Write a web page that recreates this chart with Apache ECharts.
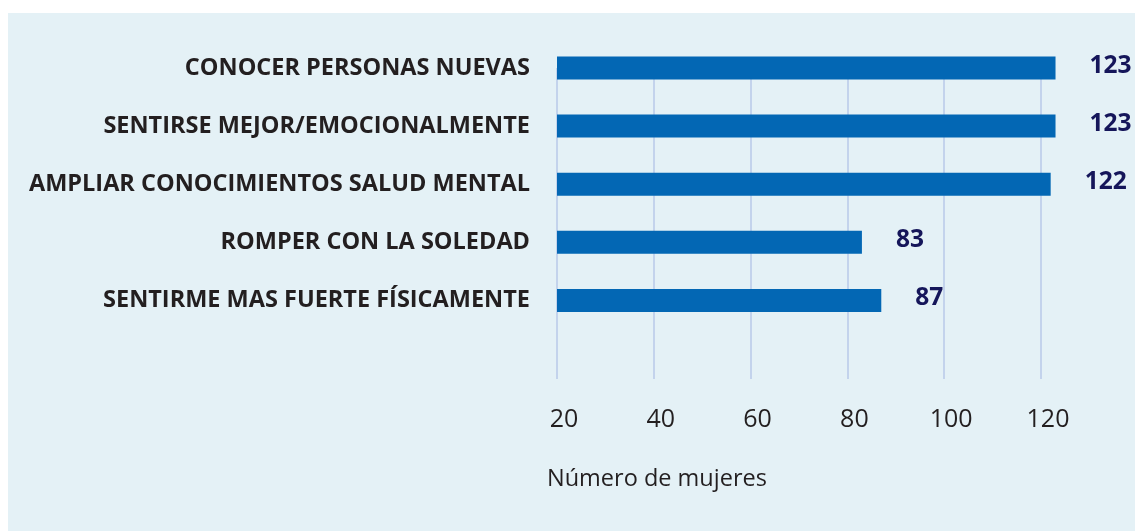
<!DOCTYPE html>
<html>
<head>
    <meta charset="utf-8">
    <title>Motivos</title>
    <style type="text/css">
        html, body {
            width: 100%;
            height: 100%;
            margin: 0;
            padding: 0;
            background: #ffffff;
        }
        #panel {
            position: absolute;
            left: 8px;
            top: 13px;
            right: 0;
            bottom: 0;
            background: #e4f1f6;
        }
        #main {
            position: absolute;
            left: 0;
            top: 0;
            width: 1135px;
            height: 531px;
        }
    </style>
    <script src="https://cdn.jsdelivr.net/npm/echarts@6/dist/echarts.min.js"></script>
</head>
<body>
<div id="panel"></div>
<div id="main"></div>
<script type="text/javascript">
    // datos
    var categorias = [
        'CONOCER PERSONAS NUEVAS',
        'SENTIRSE MEJOR/EMOCIONALMENTE',
        'AMPLIAR CONOCIMIENTOS SALUD MENTAL',
        'ROMPER CON LA SOLEDAD',
        'SENTIRME MAS FUERTE FÍSICAMENTE'
    ];
    var valores = [123, 123, 122, 83, 87];
    var ejeMin = 20;
    var ejeMax = 120;
    var ejeIntervalo = 20;
    var nombreEje = 'Número de mujeres';

    var myChart = echarts.init(document.getElementById('main'));

    // misma escala en los dos ejes x: 4.84 px por unidad
    var pxUnidad = (1135 - 557 - 94) / (ejeMax - ejeMin);
    var maxBarras = 125;

    // grid 0: barras; grid 1: lineas de division y etiquetas del eje
    var option = {
        backgroundColor: 'transparent',
        animation: false,
        title: {
            text: nombreEje,
            left: 547,
            top: 467,
            padding: 0,
            textStyle: {
                fontFamily: 'Open Sans',
                fontSize: 23.5,
                fontWeight: 'normal',
                color: '#231f20'
            }
        },
        grid: [
            {
                left: 557,
                right: 1135 - 557 - (maxBarras - ejeMin) * pxUnidad,
                top: 68,
                bottom: 531 - 68 - 5 * 58.1
            },
            { left: 557, right: 94, top: 68, bottom: 152 }
        ],
        xAxis: [{
            type: 'value',
            gridIndex: 0,
            min: ejeMin,
            max: maxBarras,
            show: false
        }, {
            type: 'value',
            gridIndex: 1,
            min: ejeMin,
            max: ejeMax,
            interval: ejeIntervalo,
            axisLine: { show: false },
            axisTick: { show: false },
            splitLine: {
                show: true,
                lineStyle: { color: '#b9c9e8', width: 1.5 }
            },
            axisLabel: {
                margin: 28,
                padding: [0, 0, 0, 14],
                fontFamily: 'Open Sans',
                fontSize: 25,
                color: '#231f20'
            }
        }],
        yAxis: [{
            type: 'category',
            gridIndex: 0,
            data: categorias,
            inverse: true,
            boundaryGap: false,
            max: 5,
            axisLine: { show: false },
            axisTick: { show: false },
            splitLine: { show: false },
            axisLabel: {
                margin: 27,
                fontFamily: 'Open Sans',
                fontSize: 23.5,
                fontWeight: 'bold',
                color: '#231f20'
            }
        }, {
            type: 'category',
            gridIndex: 1,
            data: categorias,
            show: false
        }],
        series: [{
            type: 'bar',
            xAxisIndex: 0,
            yAxisIndex: 0,
            data: valores,
            barWidth: 23,
            clip: true,
            z: 3,
            itemStyle: { color: '#0367b4' },
            label: {
                show: true,
                position: 'right',
                distance: 34,
                offset: [0, -2],
                fontFamily: 'Open Sans',
                fontSize: 24.5,
                fontWeight: 'bold',
                color: '#15165a'
            }
        }]
    };

    myChart.setOption(option);
</script>
</body>
</html>
